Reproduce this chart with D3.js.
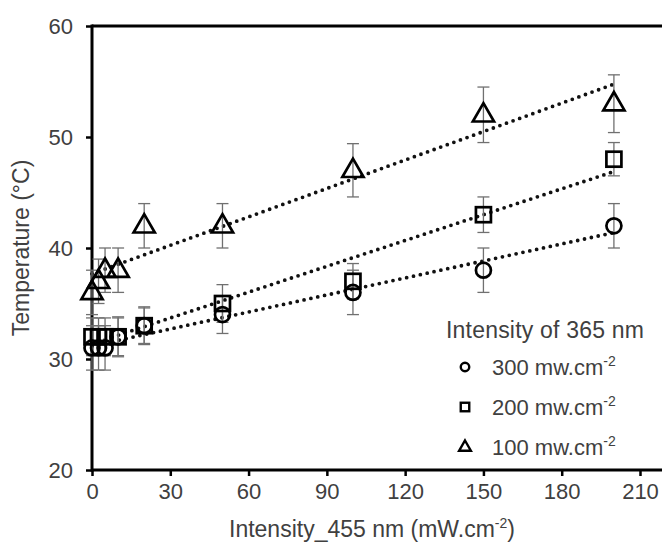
<!DOCTYPE html>
<html><head><meta charset="utf-8">
<script src="https://cdn.jsdelivr.net/npm/d3@7"></script>
<style>
body{margin:0;background:#fff;}
text{font-family:"Liberation Sans",Arial,sans-serif;fill:#404040;}
</style></head>
<body>
<svg id="c" width="662" height="548"></svg>
<script>
const xValues = [0, 2.5, 5, 10, 20, 50, 100, 150, 200];
const temp300 = [31, 31, 31, 32, 33, 34, 36, 38, 42];
const err300  = [2, 2, 2, 1.8, 1.7, 1.7, 2, 2, 2];
const temp200 = [32, 32, 32, 32, 33, 35, 37, 43, 48];
const err200  = [1.7, 1.7, 1.7, 1.7, 1.6, 1.7, 1.6, 1.6, 1.5];
const temp100 = [36, 37, 38, 38, 42, 42, 47, 52, 53];
const err100  = [2, 2, 2, 2, 2, 2, 2.4, 2.5, 2.6];
const xTicks = [0, 30, 60, 90, 120, 150, 180, 210];
const yTicks = [20, 30, 40, 50, 60];
const seriesNames = ["300 mw.cm", "200 mw.cm", "100 mw.cm"];
const legendTitle = "Intensity of 365 nm";

const svg = d3.select("#c");
const x = d3.scaleLinear().domain([0, 210]).range([92, 640]);
const y = d3.scaleLinear().domain([20, 60]).range([470, 26]);
const xEnd = 662;
const FONT = '"Liberation Sans",Arial,sans-serif';

const series = [
  {name: seriesNames[0], vals: temp300, err: err300, shape: "circle"},
  {name: seriesNames[1], vals: temp200, err: err200, shape: "square"},
  {name: seriesNames[2], vals: temp100, err: err100, shape: "triangle"}
];

// axes
const yAxis = d3.axisLeft(y).tickValues(yTicks).tickSize(6).tickPadding(13);
const gy = svg.append("g").attr("transform", `translate(${x(0)},0)`).call(yAxis);
gy.select(".domain").remove();
gy.selectAll(".tick line").attr("stroke", "#000").attr("stroke-width", 2.5);
gy.selectAll(".tick text").attr("font-size", 22).style("font-family", FONT).attr("fill", "#404040");

const xAxis = d3.axisBottom(x).tickValues(xTicks).tickSize(6).tickPadding(7);
const gx = svg.append("g").attr("transform", `translate(0,${y(20)})`).call(xAxis);
gx.select(".domain").remove();
gx.selectAll(".tick line").attr("stroke", "#000").attr("stroke-width", 2.5);
gx.selectAll(".tick text").attr("font-size", 22).style("font-family", FONT).attr("fill", "#404040");

// axis lines
svg.append("line").attr("x1", x(0)).attr("x2", xEnd).attr("y1", y(20)).attr("y2", y(20)).attr("stroke", "#000").attr("stroke-width", 3);
svg.append("line").attr("x1", x(0)).attr("x2", xEnd).attr("y1", y(60)).attr("y2", y(60)).attr("stroke", "#000").attr("stroke-width", 3);
svg.append("line").attr("x1", x(0)).attr("x2", x(0)).attr("y1", y(60) - 1.5).attr("y2", y(20) + 1.5).attr("stroke", "#000").attr("stroke-width", 3);

// trend lines (least-squares fit)
function fit(xs, ys) {
  const n = xs.length, mx = d3.mean(xs), my = d3.mean(ys);
  let sxy = 0, sxx = 0;
  for (let i = 0; i < n; i++) { sxy += (xs[i]-mx)*(ys[i]-my); sxx += (xs[i]-mx)**2; }
  const b = sxy / sxx; return {a: my - b*mx, b};
}
series.forEach(s => {
  const f = fit(xValues, s.vals);
  svg.append("line")
    .attr("x1", x(0)).attr("y1", y(f.a))
    .attr("x2", x(200)).attr("y2", y(f.a + f.b*200))
    .attr("stroke", "#111").attr("stroke-width", 3.8)
    .attr("stroke-linecap", "round").attr("stroke-dasharray", "0 7");
});

// error bars
series.forEach(s => {
  const g = svg.append("g").attr("stroke", "#707070").attr("stroke-width", 1.3);
  xValues.forEach((xv, i) => {
    const cx = x(xv), lo = y(s.vals[i] - s.err[i]), hi = y(s.vals[i] + s.err[i]);
    g.append("line").attr("x1", cx).attr("x2", cx).attr("y1", lo).attr("y2", hi);
    g.append("line").attr("x1", cx-6).attr("x2", cx+6).attr("y1", lo).attr("y2", lo);
    g.append("line").attr("x1", cx-6).attr("x2", cx+6).attr("y1", hi).attr("y2", hi);
  });
});

function drawMarker(g, shape, cx, cy, size, sw) {
  if (shape === "circle") {
    g.append("circle").attr("cx", cx).attr("cy", cy).attr("r", size*0.5)
      .attr("fill", "none").attr("stroke", "#000").attr("stroke-width", sw);
  } else if (shape === "square") {
    const h = size*0.5;
    g.append("rect").attr("x", cx-h).attr("y", cy-h).attr("width", size).attr("height", size)
      .attr("fill", "none").attr("stroke", "#000").attr("stroke-width", sw);
  } else {
    const h = size*0.62;
    g.append("path").attr("d", `M${cx},${cy-h*1.05}L${cx+h*0.95},${cy+h*0.6}L${cx-h*0.95},${cy+h*0.6}Z`)
      .attr("fill", "none").attr("stroke", "#000").attr("stroke-width", sw).attr("stroke-linejoin", "miter");
  }
}

// markers
series.forEach(s => {
  const g = svg.append("g");
  xValues.forEach((xv, i) => drawMarker(g, s.shape, x(xv), y(s.vals[i]), s.shape === "triangle" ? 18 : 15, 2.7));
});

// legend
const lg = svg.append("g");
lg.append("text").attr("x", 446).attr("y", 338).attr("font-size", 23).attr("textLength", 198).text(legendTitle);
const legY = [367, 407, 447];
series.forEach((s, i) => {
  drawMarker(lg, s.shape, 465, legY[i], s.shape === "triangle" ? 10 : 8.5, 2.4);
  const t = lg.append("text").attr("x", 492).attr("y", legY[i] + 8).attr("font-size", 22);
  t.append("tspan").text(s.name);
  t.append("tspan").attr("font-size", 14).attr("dy", -9).text("-2");
});

// axis titles
const xt = svg.append("text").attr("x", 372).attr("y", 537).attr("text-anchor", "middle").attr("font-size", 23);
xt.append("tspan").text("Intensity_455 nm (mW.cm");
xt.append("tspan").attr("font-size", 14).attr("dy", -9).text("-2");
xt.append("tspan").attr("dy", 9).text(")");

svg.append("text").attr("transform", "translate(29,248) rotate(-90)").attr("text-anchor", "middle")
  .attr("font-size", 23).text("Temperature (°C)");
</script>
</body></html>
